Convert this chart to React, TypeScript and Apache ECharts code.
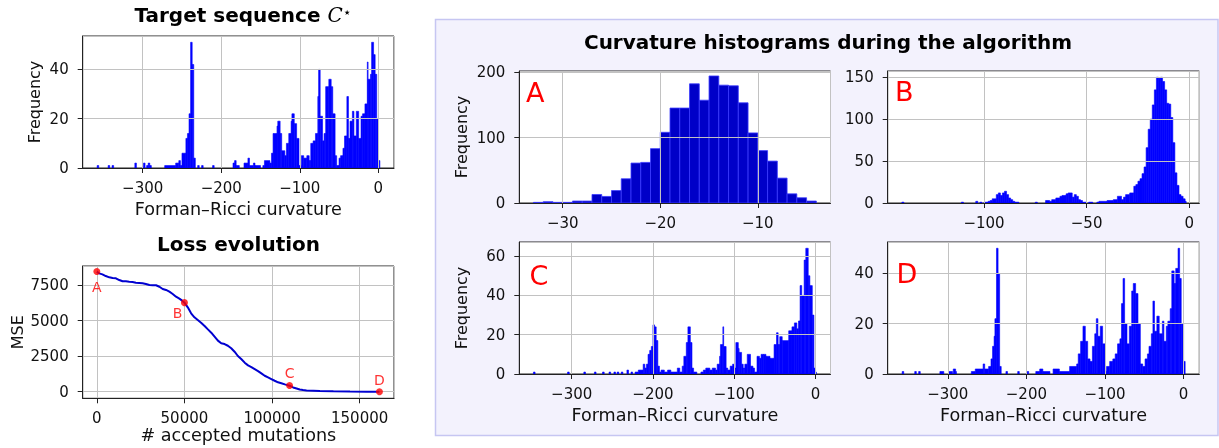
import React, { useEffect, useRef } from 'react';
import * as echarts from 'echarts';

const FONT = "'DejaVu Sans', sans-serif";

// ---------- data ----------
// histogram bins: [binStart, binEnd, count]
const targetHist: number[][] = [
  [-358, -356, 1], [-344, -342, 1], [-339, -337, 1], [-310, -308, 2], [-299, -297, 2], [-295, -293, 1], [-293, -291, 2], [-291, -289, 1],
  [-272, -258, 1], [-258, -254, 2], [-254, -252, 3], [-252, -250, 1], [-250, -245, 6], [-245, -243, 12], [-243, -241, 14], [-241, -239, 22],
  [-239, -237, 51], [-237, -235, 42], [-235, -233, 4], [-230, -228, 1], [-225, -223, 1], [-211, -209, 1], [-185, -183, 2], [-183, -181, 3],
  [-181, -177, 1], [-171, -166, 2], [-166, -164, 4], [-164, -159, 1], [-159, -157, 2], [-157, -150, 1], [-147, -145, 1], [-145, -138, 3],
  [-138, -136, 2], [-136, -134, 6], [-134, -129, 14], [-129, -128, 17], [-128, -125, 19], [-125, -123, 14], [-123, -119, 7], [-119, -117, 5],
  [-117, -114, 10], [-114, -111, 14], [-111, -110, 19], [-110, -107, 22], [-107, -104, 18], [-104, -101, 12], [-101, -98, 1], [-98, -95, 5],
  [-95, -91, 4], [-91, -88, 5], [-88, -86, 3], [-86, -83, 10], [-83, -80, 11], [-80, -77, 14], [-77, -76, 29], [-76, -74, 40], [-74, -71, 21],
  [-71, -69, 11], [-69, -67, 14], [-67, -63, 33], [-63, -60, 36], [-60, -58, 33], [-58, -55, 22], [-55, -53, 5], [-53, -50, 1], [-50, -48, 4],
  [-48, -45, 5], [-45, -43, 8], [-43, -40, 13], [-40, -38, 29], [-38, -36, 12], [-36, -33, 19], [-33, -31, 23], [-31, -28, 13], [-28, -25, 23],
  [-25, -22, 12], [-22, -20, 21], [-20, -17, 22], [-17, -14, 26], [-14, -13, 43], [-13, -10, 36], [-10, -8.5, 38], [-8.5, -6, 51], [-6, -4, 46],
  [-4, -2, 38], [-2, 0, 20], [0, 2, 3],
];

const histA: number[][] = [
  [-33, -32, 1], [-32, -31, 2], [-31, -30, 1], [-30, -29, 1], [-29, -28, 3], [-28, -27, 3], [-27, -26, 13], [-26, -25, 10], [-25, -24, 19],
  [-24, -23, 37], [-23, -22, 61], [-22, -21, 62], [-21, -20, 83], [-20, -19, 108], [-19, -18, 145], [-18, -17, 145], [-17, -16, 182],
  [-16, -15, 157], [-15, -14, 194], [-14, -13, 180], [-13, -12, 179], [-12, -11, 153], [-11, -10, 107], [-10, -9, 80], [-9, -8, 64],
  [-8, -7, 38], [-7, -6, 14], [-6, -5, 8], [-5, -4, 3],
];

const histB: number[][] = [
  [-140, -139, 1], [-111, -110, 1], [-104, -103, 2], [-102, -101, 1], [-100, -98, 1], [-98, -97, 2], [-97, -96, 3], [-96, -94, 5],
  [-94, -93, 10], [-93, -92, 12], [-92, -91, 9], [-91, -90, 12], [-90, -89, 14], [-89, -88, 10], [-88, -87, 6], [-87, -86, 4],
  [-86, -85, 2], [-85, -83, 1], [-75, -74, 1], [-70, -68, 3], [-68, -67, 2], [-67, -65, 4], [-65, -63, 6], [-63, -62, 8], [-62, -60, 9],
  [-60, -59, 11], [-59, -57, 12], [-57, -56, 7], [-56, -55, 10], [-55, -54, 8], [-54, -53, 4], [-53, -52, 3], [-52, -50, 1], [-49, -47, 1],
  [-45, -44, 1], [-44, -40, 2], [-40, -37, 3], [-37, -35, 4], [-35, -33, 8], [-33, -32, 4], [-32, -31, 7], [-31, -29, 10], [-29, -27, 12],
  [-27, -26, 20], [-26, -25, 22], [-25, -24, 26], [-24, -23, 29], [-23, -22, 35], [-22, -21, 43], [-21, -20, 66], [-20, -19, 88],
  [-19, -18, 100], [-18, -17, 117], [-17, -16, 135], [-16, -15, 150], [-15, -14, 149], [-14, -13, 150], [-13, -12, 145], [-12, -11, 135],
  [-11, -10, 119], [-10, -9, 118], [-9, -8, 102], [-8, -7, 72], [-7, -6, 36], [-6, -5, 21], [-5, -4, 10], [-4, -3, 8], [-3, -2, 5], [-2, -1.5, 2],
];

const histC: number[][] = [
  [-347, -345, 1], [-305, -303, 1], [-285, -283, 1], [-272, -270, 1], [-262, -260, 1], [-254, -252, 1], [-248, -246, 1], [-244, -242, 1],
  [-239, -237, 1], [-232, -230, 2], [-227, -225, 1], [-222, -218, 1], [-218, -212, 2], [-212, -210, 5], [-210, -208, 3], [-208, -206, 5],
  [-206, -204, 10], [-204, -202, 12], [-202, -200, 14], [-200, -198, 25], [-198, -196, 24], [-196, -194, 17], [-194, -192, 4], [-192, -190, 1],
  [-190, -186, 2], [-186, -182, 1], [-182, -178, 2], [-178, -170, 1], [-170, -167, 3], [-167, -164, 1], [-164, -162, 4], [-162, -159, 9],
  [-159, -157, 16], [-157, -154, 24], [-154, -152, 16], [-152, -150, 3], [-150, -146, 1], [-141, -138, 1], [-138, -135, 2], [-135, -130, 3],
  [-130, -127, 2], [-127, -123, 3], [-123, -121, 2], [-121, -118, 5], [-118, -117, 9], [-117, -114, 15], [-114, -113, 24], [-113, -110, 14],
  [-110, -108, 3], [-108, -105, 2], [-105, -102, 4], [-102, -100, 5], [-100, -98, 3], [-98, -95, 16], [-95, -94, 13], [-94, -91, 11],
  [-91, -89, 5], [-89, -87, 3], [-87, -84, 5], [-84, -80, 10], [-80, -77, 4], [-77, -75, 3], [-75, -72, 1], [-72, -69, 9], [-69, -67, 8],
  [-67, -64, 10], [-64, -61, 10], [-61, -56, 9], [-56, -51, 8], [-51, -48, 15], [-48, -46, 21], [-46, -44, 15], [-44, -41, 19], [-41, -33, 17],
  [-33, -29, 22], [-29, -26, 24], [-26, -23, 26], [-23, -21, 23], [-21, -19, 27], [-19, -17, 45], [-17, -14, 40], [-14, -12, 58], [-12, -9, 64],
  [-9, -7, 50], [-7, -4, 45], [-4, -2, 30], [-2, 0, 3], [0, 1, 1],
];

const histD: number[][] = [
  [-358, -356, 1], [-342, -340, 1], [-337, -335, 1], [-310, -305, 1], [-299, -294, 1], [-293, -290, 2], [-290, -289, 1], [-270, -265, 1],
  [-265, -255, 2], [-255, -253, 4], [-253, -248, 2], [-248, -245, 3], [-245, -243, 6], [-243, -241, 11], [-241, -240, 15], [-240, -238, 22],
  [-238, -236, 50], [-236, -234, 40], [-234, -232, 3], [-226, -224, 1], [-211, -209, 1], [-199, -197, 1], [-188, -183, 1], [-183, -179, 2],
  [-179, -170, 1], [-166, -158, 2], [-158, -145, 1], [-145, -136, 3], [-136, -134, 4], [-134, -131, 8], [-131, -128, 13], [-128, -125, 19],
  [-125, -122, 13], [-122, -119, 6], [-119, -116, 5], [-116, -113, 11], [-113, -111, 16], [-111, -109, 22], [-109, -106, 15], [-106, -103, 19],
  [-103, -100, 12], [-100, -98, 1], [-98, -94, 3], [-94, -90, 5], [-90, -87, 6], [-87, -84, 8], [-84, -81, 12], [-81, -79, 14], [-79, -77, 28],
  [-77, -75, 38], [-75, -72, 20], [-72, -69, 12], [-69, -66, 19], [-66, -64, 33], [-64, -61, 36], [-61, -58, 32], [-58, -55, 20], [-55, -52, 4],
  [-52, -49, 3], [-49, -46, 6], [-46, -44, 8], [-44, -41, 11], [-41, -39, 16], [-39, -37, 29], [-37, -34, 17], [-34, -31, 23], [-31, -27, 16],
  [-27, -25, 21], [-25, -22, 13], [-22, -20, 19], [-20, -17, 21], [-17, -15, 26], [-15, -12, 41], [-12, -10, 36], [-10, -7, 42], [-7, -5, 50],
  [-5, -3, 38], [-3, 0, 20], [0, 2, 5],
];

const lossX = [0, 1300, 3200, 5100, 7100, 9000, 10900, 12800, 14700, 16600, 18500, 20400, 22300, 24200, 26100, 28000, 30000, 31900, 33800,
  35700, 37600, 39500, 41400, 43300, 45200, 47100, 48700, 50000, 51900, 53800, 55700, 57600, 59500, 61500, 63400, 65300, 67200, 69100, 71000,
  72900, 74800, 76700, 78600, 80500, 82400, 84400, 86300, 88200, 90100, 92000, 93900, 95800, 97700, 99600, 101500, 103400, 105300, 107300,
  110000, 112000, 114000, 115800, 117700, 119700, 123500, 127300, 135000, 144500, 154000, 161300];
const lossY = [8437, 8320, 8250, 8130, 8040, 7990, 7970, 7850, 7760, 7760, 7730, 7710, 7660, 7640, 7620, 7570, 7500, 7480, 7480, 7380, 7220,
  7150, 7030, 6870, 6680, 6540, 6400, 6260, 5930, 5510, 5230, 5040, 4850, 4620, 4380, 4150, 3870, 3590, 3400, 3350, 3230, 3050, 2810, 2510,
  2300, 2040, 1850, 1730, 1590, 1450, 1290, 1120, 1010, 890, 770, 660, 590, 515, 420, 300, 230, 160, 120, 90, 70, 50, 25, 12, 5, 0];

const checkpointNames = ['A', 'B', 'C', 'D'];
const checkpointX = [0, 50000, 110000, 161300];
const checkpointY = [8450, 6260, 430, 0];

const curvatureTickStep = 100;
const lossXTickStep = 50000;
const lossYTickStep = 2500;

// ---------- helpers ----------
const minus = (v: number) => (v < 0 ? '\u2212' + Math.abs(v) : String(v));

function valAxis(gi: number, min: number, max: number, step: number, o: any = {}) {
  return {
    type: 'value',
    gridIndex: gi,
    min,
    max,
    minInterval: step,
    maxInterval: step,
    z: o.z ?? 3,
    axisLine: { show: true, onZero: false, lineStyle: { color: '#222', width: 1 } },
    axisTick: { show: true, inside: false, length: 5, lineStyle: { color: '#222', width: 1 } },
    axisLabel: {
      show: true,
      margin: o.margin ?? 12,
      fontSize: 15,
      color: '#111',
      fontFamily: FONT,
      formatter: minus,
      showMinLabel: o.showMin ?? false,
      showMaxLabel: false,
    },
    splitLine: { show: true, lineStyle: { color: '#c2c2c2', width: 1 } },
    name: o.name ?? '',
    nameLocation: 'middle',
    nameGap: o.nameGap ?? 30,
    nameRotate: o.nameRotate,
    nameTextStyle: { fontSize: o.nameSize ?? 17.6, color: '#111', fontFamily: FONT },
  };
}

function histRender(fill: string, stroke: string, lw: number) {
  return (params: any, api: any) => {
    const p0 = api.coord([api.value(0), api.value(2)]);
    const p1 = api.coord([api.value(1), 0]);
    return {
      type: 'rect',
      shape: { x: p0[0], y: p0[1], width: p1[0] - p0[0], height: p1[1] - p0[1] },
      style: { fill, stroke, lineWidth: lw },
    };
  };
}

function histSeries(i: number, data: number[][], fill: string, stroke: string, lw: number) {
  return {
    type: 'custom',
    xAxisIndex: i,
    yAxisIndex: i,
    data,
    encode: { x: [0, 1], y: 2 },
    renderItem: histRender(fill, stroke, lw),
    clip: true,
    z: 2,
  };
}

const grids = [
  { left: 82.7, top: 36, width: 311.3, height: 132 },
  { left: 82.7, top: 266, width: 311.3, height: 132.3 },
  { left: 519.3, top: 71, width: 311.2, height: 132 },
  { left: 887.7, top: 71, width: 311.6, height: 132 },
  { left: 519.3, top: 242, width: 311.2, height: 132 },
  { left: 887.7, top: 242, width: 311.6, height: 132 },
].map((g) => ({ ...g, show: true, backgroundColor: '#ffffff', borderColor: '#222', borderWidth: 1, containLabel: false }));

const letter = (t: string, x: number, y: number) => ({
  type: 'text',
  z: 20,
  style: { text: t, x, y, font: `27px ${FONT}`, fill: '#ff0000', align: 'left', verticalAlign: 'middle', textAlign: 'left', textVerticalAlign: 'middle' },
});

export default function App() {
  const ref = useRef<HTMLDivElement>(null);
  useEffect(() => {
    if (!ref.current) return;
    const chart = echarts.init(ref.current, null, { renderer: 'svg' });
    const option: any = {
      animation: false,
      textStyle: { fontFamily: FONT },
      grid: grids,
      xAxis: [
        valAxis(0, -376.4, 20, curvatureTickStep, { name: 'Forman\u2013Ricci curvature', nameGap: 32 }),
        valAxis(1, -8065, 169600, lossXTickStep, { name: '# accepted mutations', nameGap: 26, z: 0 }),
        valAxis(2, -34.45, -2.55, 10, {}),
        valAxis(3, -146.9, 4.9, 50, {}),
        valAxis(4, -364.4, 18.4, curvatureTickStep, { name: 'Forman\u2013Ricci curvature', nameGap: 32 }),
        valAxis(5, -376.4, 20, curvatureTickStep, { name: 'Forman\u2013Ricci curvature', nameGap: 32 }),
      ],
      yAxis: [
        valAxis(0, 0, 53.55, 20, { name: 'Frequency', nameGap: 40, nameSize: 16, showMin: true, margin: 14 }),
        valAxis(1, -464, 8836, lossYTickStep, { name: 'MSE', nameGap: 57, nameSize: 16, margin: 14, z: 0 }),
        valAxis(2, 0, 201.6, 100, { name: 'Frequency', nameGap: 50, nameSize: 16, showMin: true, margin: 14 }),
        valAxis(3, 0, 157.5, 50, { showMin: true, margin: 14 }),
        valAxis(4, 0, 67.2, 20, { name: 'Frequency', nameGap: 50, nameSize: 16, showMin: true, margin: 14 }),
        valAxis(5, 0, 52.5, 20, { showMin: true, margin: 14 }),
      ],
      series: [
        histSeries(0, targetHist, '#0000ff', '#0000ff', 0.6),
        {
          type: 'line',
          xAxisIndex: 1,
          yAxisIndex: 1,
          data: lossX.map((x, i) => [x, lossY[i]]),
          showSymbol: false,
          lineStyle: { color: '#0000d0', width: 2 },
          z: 2,
        },
        {
          type: 'scatter',
          xAxisIndex: 1,
          yAxisIndex: 1,
          symbolSize: 7,
          itemStyle: { color: '#ff0000' },
          z: 5,
          data: checkpointNames.map((n, i) => ({
            value: [checkpointX[i], checkpointY[i]],
            label: {
              show: true,
              formatter: n,
              position: 'inside',
              offset: [[0, 16], [-7, 10], [0, -13], [0, -12]][i],
              color: '#ff0000',
              fontSize: 14,
              fontFamily: FONT,
            },
          })),
        },
        histSeries(2, histA, '#0000c8', '#3a3aff', 0.8),
        histSeries(3, histB, '#0000ff', '#0000ff', 0.6),
        histSeries(4, histC, '#0000ff', '#0000ff', 0.6),
        histSeries(5, histD, '#0000ff', '#0000ff', 0.6),
      ],
      graphic: [
        {
          type: 'rect',
          z: -10,
          shape: { x: 435.5, y: 19.5, width: 782.5, height: 416 },
          style: { fill: '#f3f2fd', stroke: '#c6c6f2', lineWidth: 1.5 },
        },
        {
          type: 'text',
          z: 20,
          style: {
            text: '{b|Target sequence }{c|C}{s|\u22c6}',
            x: 243,
            y: 14.5,
            align: 'center',
            verticalAlign: 'middle',
            textAlign: 'center',
            textVerticalAlign: 'middle',
            rich: {
              b: { fontSize: 20, fontWeight: 'bold', fontFamily: FONT, fill: '#000', color: '#000' },
              c: { fontSize: 20, fontStyle: 'italic', fontFamily: "'DejaVu Serif', serif", fill: '#000', color: '#000' },
              s: { fontSize: 14, fontFamily: FONT, fill: '#000', color: '#000', verticalAlign: 'top' },
            },
          },
        },
        {
          type: 'text',
          z: 20,
          style: {
            text: 'Loss evolution', x: 238.5, y: 244, font: `bold 20px ${FONT}`, fill: '#000',
            align: 'center', verticalAlign: 'middle', textAlign: 'center', textVerticalAlign: 'middle',
          },
        },
        {
          type: 'text',
          z: 20,
          style: {
            text: 'Curvature histograms during the algorithm', x: 828, y: 42, font: `bold 20px ${FONT}`, fill: '#000',
            align: 'center', verticalAlign: 'middle', textAlign: 'center', textVerticalAlign: 'middle',
          },
        },
        letter('A', 526, 92),
        letter('B', 895, 91),
        letter('C', 529.5, 275.5),
        letter('D', 896.5, 273.5),
      ],
    };
    chart.setOption(option);
    return () => chart.dispose();
  }, []);
  return <div ref={ref} style={{ position: 'fixed', left: 0, top: 0, width: 1219, height: 448 }} />;
}
